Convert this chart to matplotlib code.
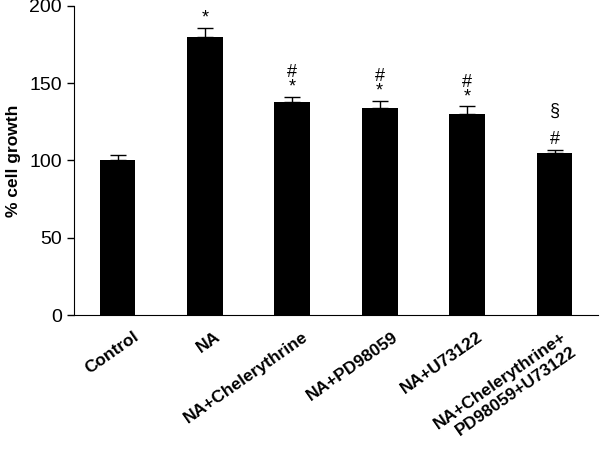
import matplotlib
matplotlib.use("Agg")
import matplotlib.pyplot as plt
import matplotlib.transforms as mtransforms
import numpy as np

plt.rcParams['font.family'] = ['Liberation Sans', 'DejaVu Sans']

groups = ['Control', 'NA', 'NA+Chelerythrine', 'NA+PD98059', 'NA+U73122',
          'NA+Chelerythrine+\nPD98059+U73122']
growth = [100, 180, 138, 134, 130, 105]
sem = [3.5, 6, 3, 4.5, 5, 2]
marks = ['', '*', '#\n*', '#\n*', '#\n*', '§\n\n#']

fig = plt.figure(figsize=(6, 4.54), dpi=100)
ax = fig.add_axes([0.123, 0.306, 0.874, 0.681])

x = np.arange(len(groups))
ax.bar(x, growth, width=0.41, color='black', zorder=2)
ax.errorbar(x, growth, yerr=[np.zeros(len(sem)), sem], fmt='none',
            ecolor='black', elinewidth=1, capsize=6, capthick=1, zorder=1)

for xi, g, e, m in zip(x, growth, sem, marks):
    if m:
        ax.annotate(m, (xi, g + e), xytext=(0, 1), textcoords='offset points',
                    ha='center', va='bottom', fontsize=13, linespacing=0.8)

ax.set_xlim(-0.5, 5.5)
ax.set_ylim(0, 200)
ax.set_yticks([0, 50, 100, 150, 200])
ax.set_xticks(x)
ax.set_xticklabels(groups, rotation=35, ha='right', rotation_mode='anchor',
                   fontweight='bold', fontsize=12.5, linespacing=1.25)
ax.tick_params(axis='x', length=0, pad=10)
ax.tick_params(axis='y', labelsize=14, length=5, width=1)
ax.set_ylabel('% cell growth', fontweight='bold', fontsize=12.5, labelpad=6)
ax.spines['top'].set_visible(False)
ax.spines['right'].set_visible(False)

# labels sit a little right of the bar centres in the original
shift_px = [15, 10, 10, 12, 10, 6]
for lab, s in zip(ax.get_xticklabels(), shift_px):
    lab.set_transform(lab.get_transform() +
                      mtransforms.ScaledTranslation(s / 100, 0, fig.dpi_scale_trans))

fig.savefig('out.png', dpi=100)
